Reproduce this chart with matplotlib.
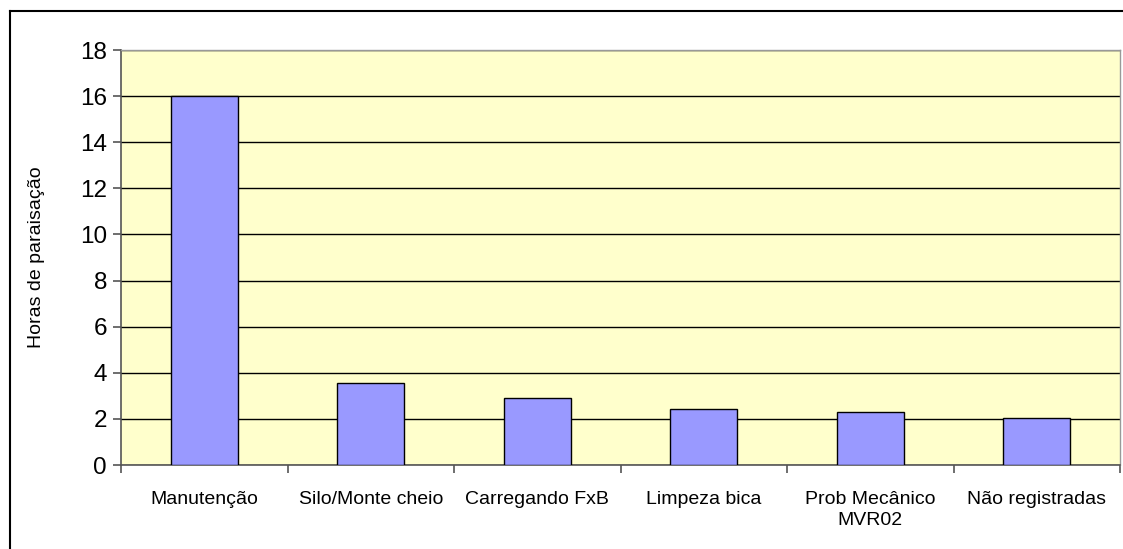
import numpy as np
import matplotlib
matplotlib.use("Agg")
import matplotlib.pyplot as plt
from matplotlib.lines import Line2D

# dados
categorias = ["Manutenção", "Silo/Monte cheio", "Carregando FxB",
              "Limpeza bica", "Prob Mecânico\nMVR02", "Não registradas"]
horas = [16.0, 3.55, 2.92, 2.44, 2.28, 2.05]
yticks = [0, 2, 4, 6, 8, 10, 12, 14, 16, 18]

plt.rcParams["font.family"] = ["Liberation Sans", "DejaVu Sans"]

fig = plt.figure(figsize=(11.23, 5.49), dpi=100)
ax = fig.add_axes([121 / 1123, 1 - 465 / 549, (1120 - 121) / 1123, (465 - 50) / 549])
ax.set_facecolor("#FFFFCC")

x = np.arange(len(categorias))
ax.bar(x, horas, width=0.4, color="#9999FF", edgecolor="black", linewidth=1.0, zorder=3)

ax.set_xlim(-0.5, len(categorias) - 0.5)
ax.set_ylim(0, 18)
ax.set_yticks(yticks)
ax.set_yticklabels([str(v) for v in yticks], fontsize=17.5)
ax.yaxis.grid(True, color="black", linewidth=1.0, zorder=1)
ax.set_axisbelow(True)

# rotulos no meio, ticks nas divisas
ax.set_xticks(x)
ax.set_xticklabels(categorias, fontsize=14, va="top", linespacing=1.3)
ax.tick_params(axis="x", length=0, pad=19)
ax.set_xticks(np.arange(len(categorias) + 1) - 0.5, minor=True)
ax.tick_params(axis="x", which="minor", length=6, color="#555555", width=1.2)
ax.tick_params(axis="y", length=6, color="#555555", width=1.2, pad=4)

for s in ["left", "bottom"]:
    ax.spines[s].set_color("#555555")
    ax.spines[s].set_linewidth(1.2)
for s in ["top", "right"]:
    ax.spines[s].set_color("#999999")
    ax.spines[s].set_linewidth(1.0)

ax.set_ylabel("Horas de paraisação", fontsize=14)
ax.yaxis.set_label_coords(-76 / 999, 0.5)

# moldura externa (so topo e esquerda aparecem)
fig.add_artist(Line2D([10 / 1123, 10 / 1123], [0, 1 - 10.5 / 549], transform=fig.transFigure,
                      color="black", linewidth=1.5))
fig.add_artist(Line2D([10 / 1123, 1], [1 - 10.5 / 549, 1 - 10.5 / 549], transform=fig.transFigure,
                      color="black", linewidth=1.5))

fig.savefig("out.png", dpi=100)
